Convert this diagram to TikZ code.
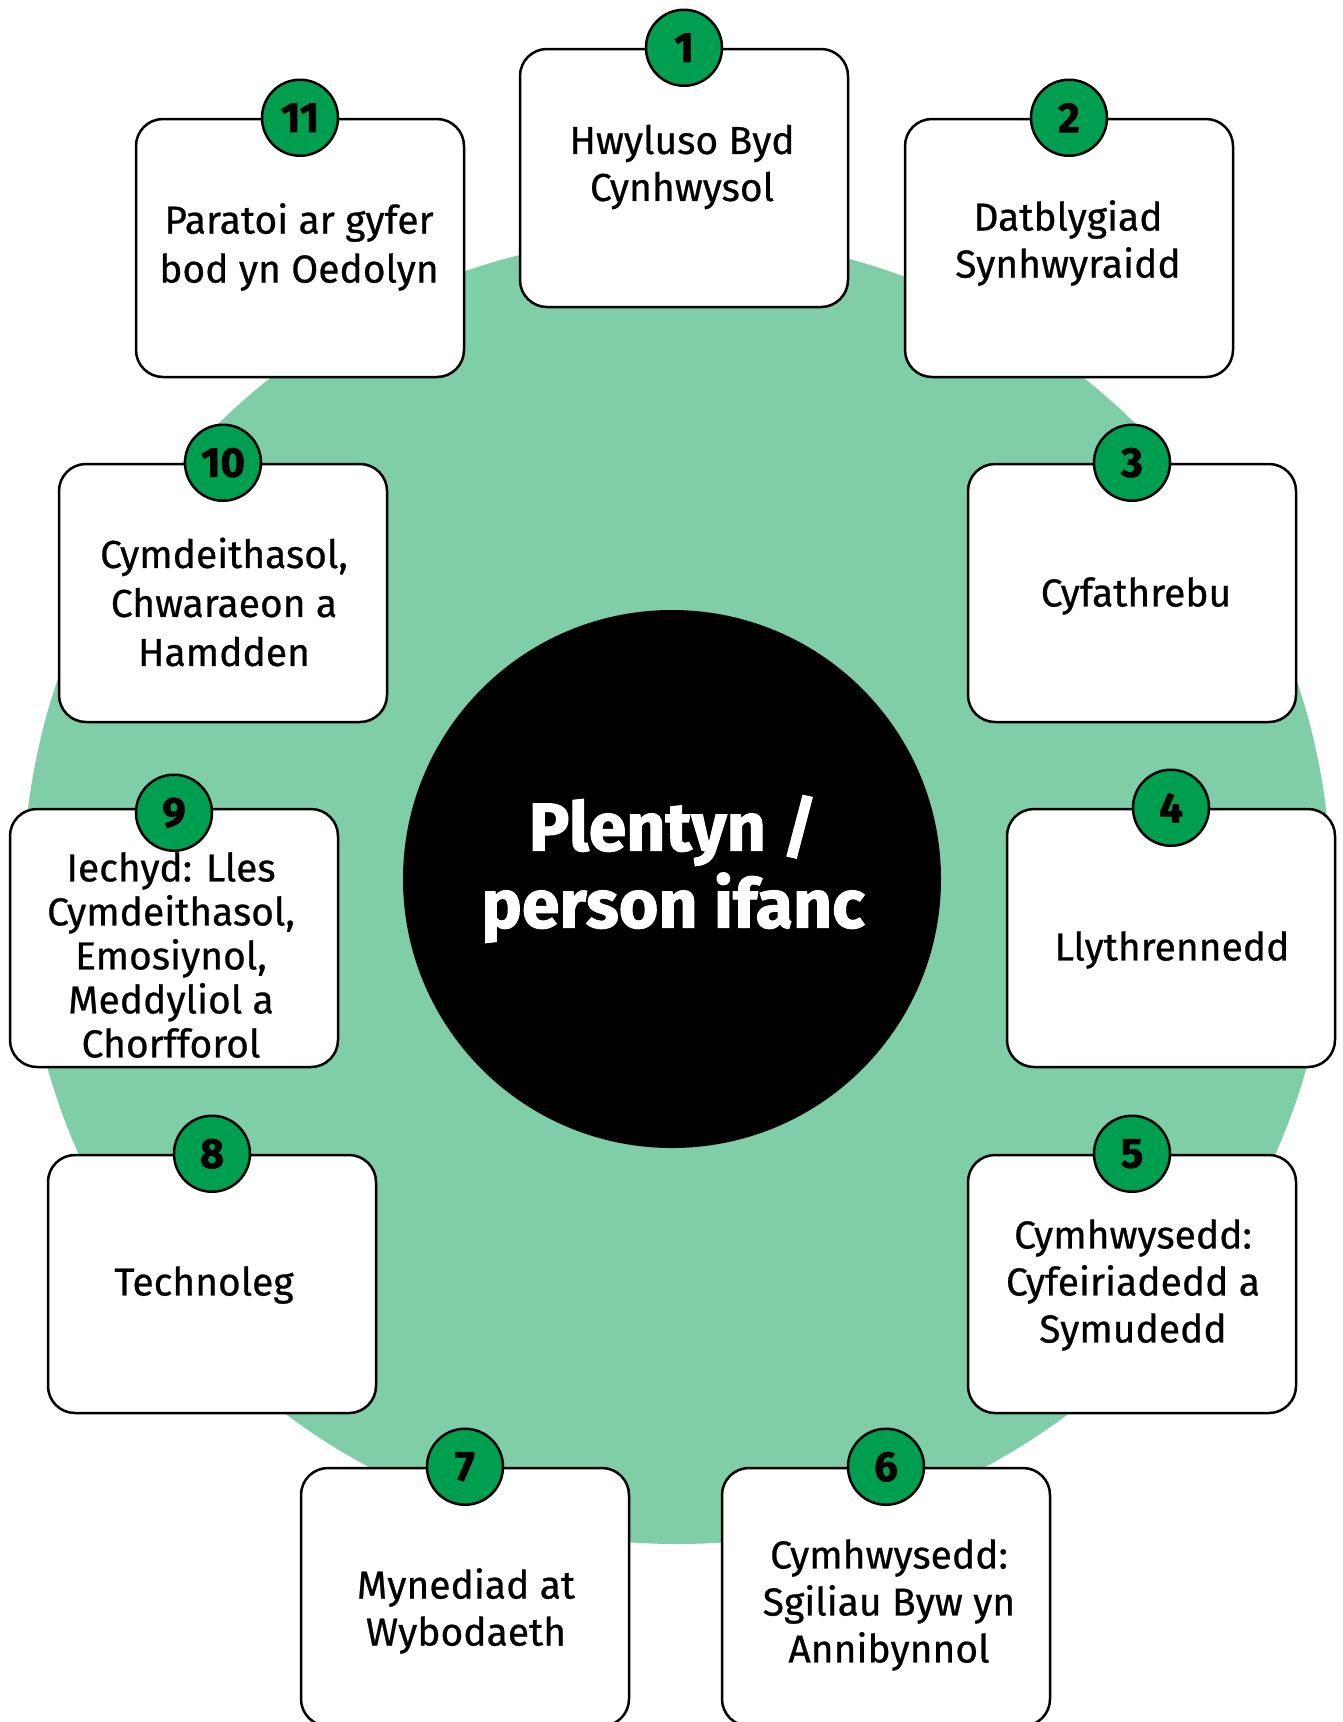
\documentclass[tikz,border=0pt]{standalone}
\usepackage{fontspec}
\setmainfont{Fira Sans}
\newfontfamily\boxfont{Fira Sans}[FakeBold=0.6]
\newfontfamily\titlefont{Fira Sans}[FakeBold=1.5]
\definecolor{lightgreen}{HTML}{80CEA8}
\definecolor{badgegreen}{HTML}{009E4F}
\tikzset{
  areabox/.style={draw=black, line width=2.5pt, fill=white, rounded corners=27pt,
    minimum width=328pt, minimum height=258pt, inner sep=0pt},
  badge/.style={circle, draw=black, line width=2.5pt, fill=badgegreen, minimum size=76pt,
    inner sep=0pt, font=\fontsize{42}{44}\selectfont\titlefont\bfseries},
  boxtext/.style={align=center, font=\fontsize{39}{47}\selectfont\boxfont, inner sep=0pt}
}
\begin{document}
\begin{tikzpicture}[x=1pt,y=-1pt]
\useasboundingbox (0,0) rectangle (1343,1722);
\begin{scope}
\clip (0,0) rectangle (1343,1722);
\node[circle, fill=lightgreen, minimum size=1308pt, inner sep=0pt] (bg) at (677,890) {};
\node[circle, fill=black, minimum size=538pt, inner sep=0pt, align=center, text=white,
  font=\fontsize{68}{77}\selectfont\titlefont\bfseries] (centre) at (672,879) {};
\node[align=center, text=white, inner sep=0pt,
  font=\fontsize{68}{77}\selectfont\titlefont\bfseries] (title) at (673,869) {Plentyn /\\person ifanc};
% boxes
\node[areabox] (b1) at (684,178) {};
\node[areabox] (b2) at (1069,248) {};
\node[areabox] (b3) at (1132,593) {};
\node[areabox] (b4) at (1171,938) {};
\node[areabox] (b5) at (1132,1284) {};
\node[areabox] (b6) at (886,1597) {};
\node[areabox] (b7) at (465,1597) {};
\node[areabox] (b8) at (212,1284) {};
\node[areabox] (b9) at (174,938) {};
\node[areabox] (b10) at (223,593) {};
\node[areabox] (b11) at (300,248) {};
% badges
\node[badge] (n1) at (b1.north) {1};
\node[badge] (n2) at (b2.north) {2};
\node[badge] (n3) at (b3.north) {3};
\node[badge] (n4) at (b4.north) {4};
\node[badge] (n5) at (b5.north) {5};
\node[badge] (n6) at (b6.north) {6};
\node[badge] (n7) at (b7.north) {7};
\node[badge] (n8) at (b8.north) {8};
\node[badge] (n9) at ([yshift=-5pt]b9.north) {9};
\node[badge] (n10) at (b10.north) {10};
\node[badge] (n11) at (b11.north) {11};
% texts
\node[boxtext] (t1) at (682,167) {Hwyluso Byd\\Cynhwysol};
\node[boxtext] (t2) at (1068,243) {Datblygiad\\Synhwyraidd};
\node[boxtext] (t3) at (1136,596) {Cyfathrebu};
\node[boxtext] (t4) at (1172,950) {Llythrennedd};
\node[boxtext] (t5) at (1133,1285) {Cymhwysedd:\\Cyfeiriadedd a\\Symudedd};
\node[boxtext] (t6) at (889,1605) {Cymhwysedd:\\Sgiliau Byw yn\\Annibynnol};
\node[boxtext] (t7) at (466,1611) {Mynediad at\\Wybodaeth};
\node[boxtext] (t8) at (204,1285) {Technoleg};
\node[boxtext, font=\fontsize{39}{44}\selectfont\boxfont] (t9) at (171,955) {Iechyd: Lles\\Cymdeithasol,\\Emosiynol,\\Meddyliol a\\Chorfforol};
\node[boxtext, font=\fontsize{39}{49}\selectfont\boxfont] (t10) at (224,602) {Cymdeithasol,\\Chwaraeon a\\Hamdden};
\node[boxtext, font=\fontsize{39}{49}\selectfont\boxfont] (t11) at (299,247) {Paratoi ar gyfer\\bod yn Oedolyn};
\end{scope}
\end{tikzpicture}
\end{document}
